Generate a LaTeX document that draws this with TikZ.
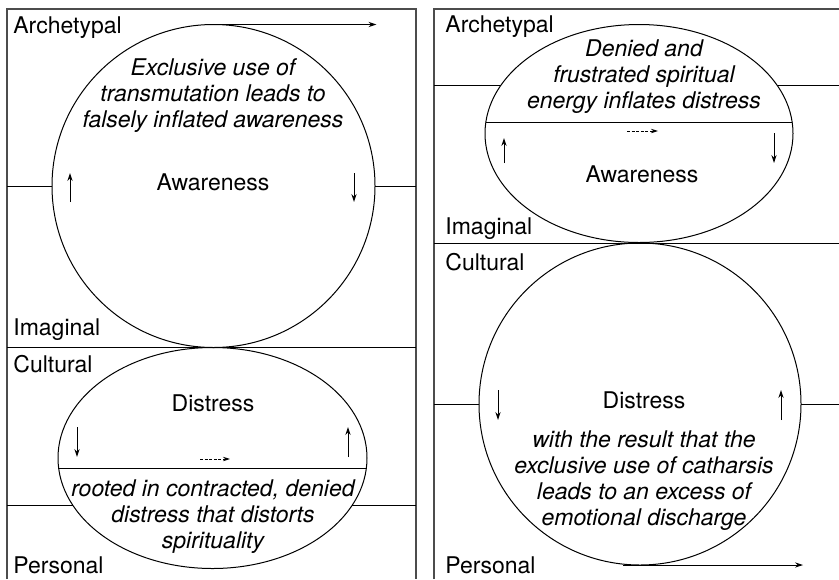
\documentclass[tikz,border=0pt]{standalone}
\usepackage{fontspec}
\setmainfont{TeX Gyre Heros}
\usetikzlibrary{arrows.meta}
\usetikzlibrary{shapes.geometric}

\tikzset{
	frame/.style={draw=black!70, line width=0.7pt},
	lvl/.style={draw, line width=0.5pt},
	orb/.style={draw, line width=0.5pt, inner sep=0pt, outer sep=0pt},
	flow/.style={line width=0.5pt, -{Stealth[length=4pt,width=2.6pt]}},
	drift/.style={line width=0.4pt, densely dashed, dash pattern=on 1.5pt off 0.8pt, -{Stealth[length=3.5pt,width=2.2pt]}},
	tag/.style={anchor=base west, inner sep=0pt, font=\fontsize{11.5}{13}\selectfont},
	word/.style={anchor=base, inner sep=0pt, font=\fontsize{11.5}{13}\selectfont},
	note/.style={anchor=base, inner sep=0pt, align=center, font=\fontsize{11.5}{13}\selectfont\itshape}
}

\begin{document}
\begin{tikzpicture}[x=0.5pt, y=-0.5pt]
\useasboundingbox (0,0) rectangle (839,579);

% frames
\draw[frame] (7,579) -- (7,9) -- (416,9) -- (416,579);
\draw[frame] (434,579) -- (434,9) -- (839,9);

% left: awareness over distress
\node[orb, circle, minimum size=161.5pt] (awareL) at (213.5,186) {};
\node[orb, ellipse, minimum width=154.5pt, minimum height=110.5pt] (distressL) at (212.5,458) {};

\coordinate (l1) at (7,186);   \coordinate (r1) at (416,186);
\coordinate (l2) at (7,347);   \coordinate (r2) at (416,347);
\coordinate (l3) at (7,505);   \coordinate (r3) at (416,505);
\coordinate (dl3) at ([shift={(-139.8,47)}]distressL.center);
\coordinate (dr3) at ([shift={(139.8,47)}]distressL.center);
\coordinate (dlc) at ([shift={(-153.9,10)}]distressL.center);
\coordinate (drc) at ([shift={(153.9,10)}]distressL.center);
\path[lvl]
(l1) edge (awareL.west)
(awareL.east) edge (r1)
(l2) edge (r2)
(l3) edge (dl3)
(dr3) edge (r3)
(dlc) edge (drc);

\draw[flow] ([xshift=-4pt]awareL.north) -- ++(171,0);
\draw[flow] (70,202) -- (70,173);
\draw[flow] (354,173) -- (354,202);
\draw[flow] (77,427) -- (77,457);
\draw[flow] (348,457) -- (348,427);
\draw[drift] (200,459) -- (230,459);

\node[tag] (arcL) at (13,33) {Archetypal};
\node[tag] (imgL) at (13,335) {Imaginal};
\node[tag] (culL) at (13,372) {Cultural};
\node[tag] (perL) at (13,573) {Personal};
\node[note] (exL) at (213,127) {Exclusive use of\\transmutation leads to\\falsely inflated awareness};
\node[word] (awL) at (213,190) {Awareness};
\node[word] (diL) at (213,411) {Distress};
\node[note] (roL) at (213,548) {rooted in contracted, denied\\distress that distorts\\spirituality};

% right: distress over awareness
\node[orb, ellipse, minimum width=154pt, minimum height=109pt] (awareR) at (639,133.5) {};
\node[orb, circle, minimum size=161pt] (distressR) at (640,404) {};

\coordinate (l4) at (434,85);  \coordinate (r4) at (839,85);
\coordinate (l5) at (434,243); \coordinate (r5) at (839,243);
\coordinate (l6) at (434,404); \coordinate (r6) at (839,404);
\coordinate (al4) at ([shift={(-137.9,-48.5)}]awareR.center);
\coordinate (ar4) at ([shift={(137.9,-48.5)}]awareR.center);
\coordinate (alc) at ([shift={(-153.1,-11.5)}]awareR.center);
\coordinate (arc) at ([shift={(153.1,-11.5)}]awareR.center);
\path[lvl]
(l4) edge (al4)
(ar4) edge (r4)
(alc) edge (arc)
(l5) edge (r5)
(l6) edge (distressR.west)
(distressR.east) edge (r6);

\draw[flow] ([xshift=-8.5pt]distressR.south) -- ++(180,0);
\draw[flow] (504,163) -- (504,138);
\draw[flow] (774,133) -- (774,163);
\draw[flow] (498,390) -- (498,420);
\draw[flow] (781,420) -- (781,390);
\draw[drift] (627,131) -- (658,131);

\node[tag] (arcR) at (445,32) {Archetypal};
\node[tag] (imgR) at (445,234) {Imaginal};
\node[tag] (culR) at (445,270) {Cultural};
\node[tag] (perR) at (445,573) {Personal};
\node[note] (deR) at (644,108) {Denied and\\frustrated spiritual\\energy inflates distress};
\node[word] (awR) at (642,182) {Awareness};
\node[word] (diR) at (644,408) {Distress};
\node[note] (wiR) at (644,525) {with the result that the\\exclusive use of catharsis\\leads to an excess of\\emotional discharge};
\end{tikzpicture}
\end{document}
